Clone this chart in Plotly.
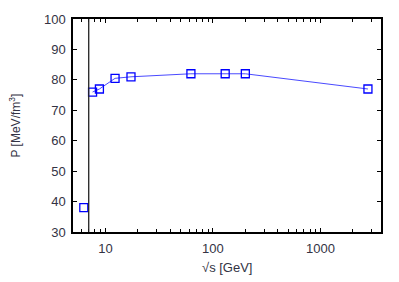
import plotly.graph_objects as go
import math

# Data
sqrt_s = [6.3, 7.6, 8.8, 12.3, 17.3, 62.4, 130, 200, 2760]
pressure = [38, 76, 77, 80.5, 81, 82, 82, 82, 77]
x_major_ticks = [10, 100, 1000]
x_minor_ticks = [6, 7, 8, 9, 20, 30, 40, 50, 60, 70, 80, 90,
                 200, 300, 400, 500, 600, 700, 800, 900, 2000, 3000]
y_ticks = [30, 40, 50, 60, 70, 80, 90, 100]
vline_x = 7.0
x_range = [5.0, 3650]
y_range = [30, 100]

FONT = "Liberation Sans, Arial, sans-serif"

fig = go.Figure()
# isolated first point (not joined by the line)
fig.add_trace(go.Scatter(
    x=sqrt_s[:1], y=pressure[:1], mode="markers",
    marker=dict(symbol="square-open", size=8, color="#0000ff",
                line=dict(width=1.3, color="#0000ff")),
    showlegend=False,
))
fig.add_trace(go.Scatter(
    x=sqrt_s[1:], y=pressure[1:], mode="lines+markers",
    line=dict(color="#4a4aff", width=1),
    marker=dict(symbol="square-open", size=8, color="#0000ff",
                line=dict(width=1.3, color="#0000ff")),
    showlegend=False,
))

fig.add_shape(type="line", xref="x", yref="paper",
              x0=vline_x, x1=vline_x, y0=0, y1=1,
              line=dict(color="#222222", width=1.3))

axis_common = dict(
    showline=True, linecolor="black", linewidth=1.5, mirror="ticks",
    ticks="inside", ticklen=4, tickwidth=1, tickcolor="black",
    showgrid=False, zeroline=False,
    tickfont=dict(family=FONT, size=13, color="#333344"),
)

fig.update_xaxes(type="log",
                 range=[math.log10(x_range[0]), math.log10(x_range[1])],
                 tickvals=x_major_ticks, ticktext=[str(v) for v in x_major_ticks],
                 ticklabelstandoff=4,
                 minor=dict(tickvals=x_minor_ticks, ticks="inside", ticklen=3,
                            tickcolor="black", showgrid=False),
                 **axis_common)
fig.update_yaxes(range=y_range, tickvals=y_ticks, ticklabelstandoff=3,
                 **axis_common)

fig.add_annotation(text="√s [GeV]", xref="paper", yref="paper",
                   x=0.5, y=0, yshift=-35, showarrow=False,
                   xanchor="center", yanchor="middle",
                   font=dict(family=FONT, size=13, color="#333344"))
fig.add_annotation(text="P [MeV/fm<sup>3</sup>]", xref="paper", yref="paper",
                   x=(14 - 73) / 308, y=0.5, showarrow=False, textangle=-90,
                   xanchor="center", yanchor="middle",
                   font=dict(family=FONT, size=12, color="#333344"))

fig.update_layout(
    width=399, height=282,
    margin=dict(l=73, r=18, t=13, b=50),
    paper_bgcolor="white", plot_bgcolor="white",
)

fig.write_html("out.html",
               config={"displayModeBar": False},
               post_script="document.body.style.margin='0px';")
